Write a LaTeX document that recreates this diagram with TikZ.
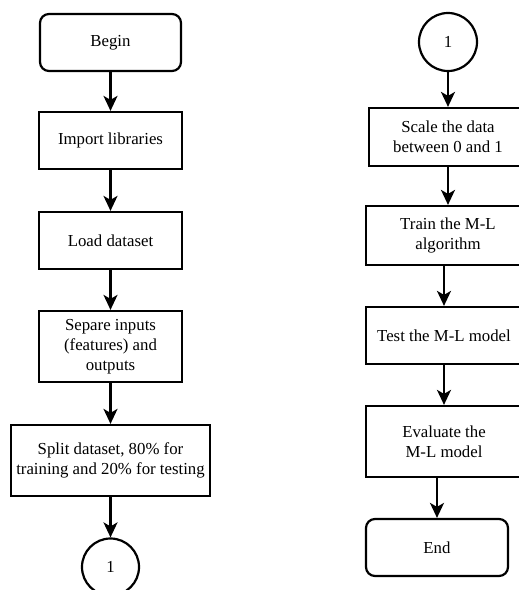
\documentclass[tikz,border=0pt]{standalone}
\usepackage{fontspec}
\setmainfont{Liberation Serif}
\usetikzlibrary{arrows.meta,calc}
\begin{document}
\begin{tikzpicture}[x=1pt,y=-1pt,
  every node/.style={font=\fontsize{16.8}{20}\selectfont, align=center, inner sep=0pt},
  box/.style={draw, line width=2.2pt, rectangle},
  term/.style={draw, line width=2.2pt, rectangle, rounded corners=9pt},
  conn/.style={draw, line width=2.2pt, circle},
  arr/.style={line width=2.2pt, -{Stealth[length=15pt,width=14pt,inset=4pt]}}]
\useasboundingbox (0,0) rectangle (519,590);
\clip (0,0) rectangle (519,590);
% left column
\node[term, minimum width=141pt, minimum height=57pt] (begin) at (110.5,42.5) {Begin};
\node[box, minimum width=143pt, minimum height=57pt] (import) at (110.5,140.5) {Import libraries};
\node[box, minimum width=143pt, minimum height=57pt] (load) at (110.5,240.5) {Load dataset};
\node[box, minimum width=143pt, minimum height=71pt] (separe) at (110.5,346.5) {Separe inputs\\(features) and\\outputs};
\node[box, minimum width=199pt, minimum height=71pt] (split) at (110.5,460.5) {Split dataset, 80\% for\\training and 20\% for testing};
\node[conn, minimum size=57pt] (c1) at (110.5,567) {1};
% right column
\node[conn, minimum size=58pt] (c2) at (448,42) {1};
\node[box, minimum width=158pt, minimum height=58pt] (scale) at (448,137) {Scale the data\\between 0 and 1};
\node[box, minimum width=164pt, minimum height=59pt] (train) at (448,235.5) {Train the M-L\\algorithm};
\node[box, minimum width=156pt, minimum height=57pt] (test) at (444,335.5) {Test the M-L model};
\node[box, minimum width=156pt, minimum height=71pt] (eval) at (444,441.5) {Evaluate the\\M-L model};
\node[term, minimum width=142pt, minimum height=57pt] (end) at (437,547.5) {End};
% connectors
\draw[arr] (begin) -- (import);
\draw[arr] (import) -- (load);
\draw[arr] (load) -- (separe);
\draw[arr] (separe) -- (split);
\draw[arr] (split) -- (c1);
\draw[arr] (c2) -- (scale);
\draw[arr] (scale) -- (train);
\draw[arr] (test.north |- train.south) -- (test);
\draw[arr] (eval.north |- test.south) -- (eval);
\draw[arr] (end.north |- eval.south) -- (end);
\end{tikzpicture}
\end{document}
